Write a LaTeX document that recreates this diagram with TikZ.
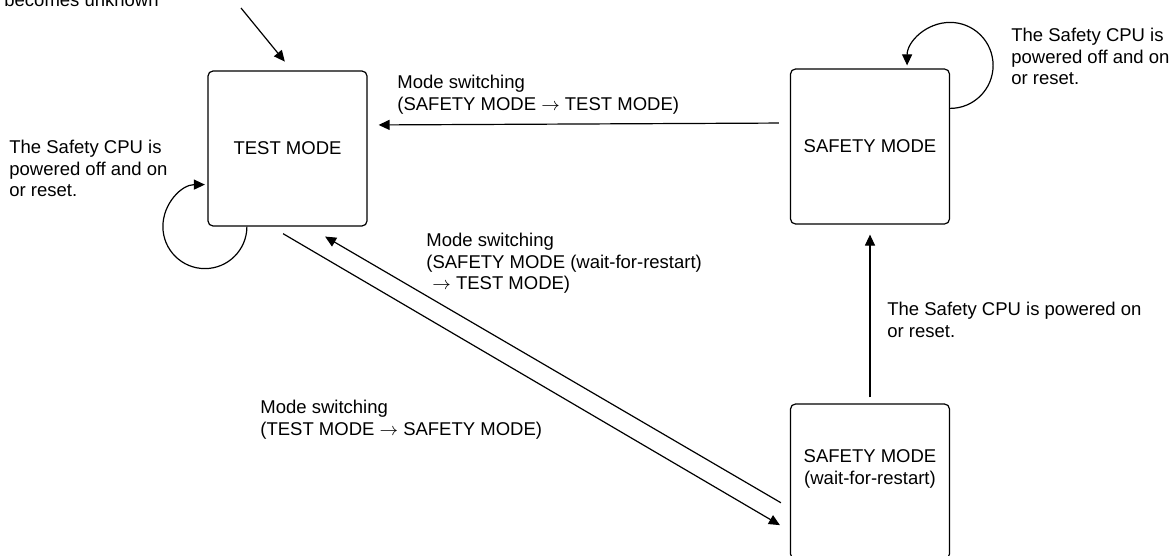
\documentclass[tikz,border=0pt]{standalone}
\usepackage{fontspec}
\setmainfont{Liberation Sans}
\usetikzlibrary{arrows.meta, positioning}

\newcommand{\diafont}{\fontsize{9.25}{10.7}\selectfont}
\newcommand{\modearrow}{$\rightarrow$}

\begin{document}
\begin{tikzpicture}[
                x=0.5pt, y=-0.5pt,
                modebox/.style={rectangle, draw, rounded corners=2.5pt, line width=0.6pt, minimum width=79.5pt, minimum height=77.5pt, align=center, font=\diafont, inner sep=0pt},
                note/.style={anchor=north west, inner sep=0pt, align=left, font=\diafont},
                arr/.style={-{Triangle[length=5.5pt, width=5pt]}, line width=0.6pt}
            ]
                \useasboundingbox (0,0) rectangle (1173,556);

                \node[modebox] (test) at (287.5,148.5) {TEST MODE};
                \node[modebox] (safety) at (870,146.5) {SAFETY MODE};
                \node[modebox, label={[font=\diafont, align=center, yshift=6.25pt]center:SAFETY MODE\\(wait-for-restart)}] (wait) at (870,481.5) {};

                \node[anchor=base west, inner sep=0pt, font=\diafont] (unknown) at (4,7) {becomes unknown};
                \coordinate (init) at (241,8);

                \node[note] (testloop) at (9,140) {The Safety CPU is\\powered off and on\\or reset.};
                \node[note] (safetyloop) at (1011,28) {The Safety CPU is\\powered off and on\\or reset.};
                \node[note] (totest) at (397,75) {Mode switching\\(SAFETY MODE \modearrow{} TEST MODE)};
                \node[note] (waittotest) at (426,233) {Mode switching\\(SAFETY MODE (wait-for-restart)\\\hspace*{3pt}\modearrow{} TEST MODE)};
                \node[note] (tosafety) at (260,400) {Mode switching\\(TEST MODE \modearrow{} SAFETY MODE)};
                \node[note] (poweron) at (887,302) {The Safety CPU is powered on\\or reset.};

                \draw[arr, shorten >=5.7pt] (init) -- ([xshift=2.25pt]test.north);
                \draw[arr, shorten <=5.5pt, shorten >=5.5pt] ([yshift=11.75pt]safety.west) -- ([yshift=11.75pt]test.east);
                \draw[arr] ([xshift=19.75pt]test.south west) arc[start angle=0, end angle=-270, radius=21pt];
                \draw[arr] ([yshift=-20pt]safety.north east) arc[start angle=-90, end angle=180, radius=21.5pt];
                \draw[arr, shorten <=7pt, shorten >=5.8pt] ([xshift=-8.25pt]test.south) -- ([yshift=-24.75pt]wait.west);
                \draw[arr, shorten <=5.2pt, shorten >=9.9pt] ([yshift=-13.25pt]wait.west) -- ([xshift=10.25pt]test.south);
                \draw[arr, shorten <=3pt, shorten >=5pt] (wait.north) -- (safety.south);
            \end{tikzpicture}
\end{document}
